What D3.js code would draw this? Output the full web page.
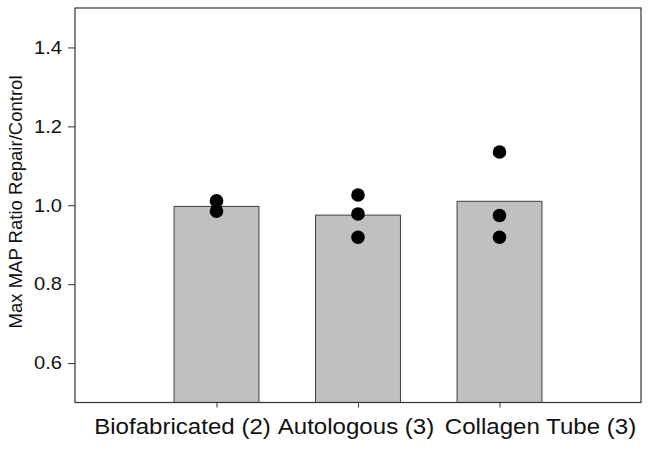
<!DOCTYPE html>
<html>
<head>
<meta charset="utf-8">
<script src="https://cdn.jsdelivr.net/npm/d3@7"></script>
<style>
  html, body { margin: 0; padding: 0; background: #fff; }
  svg { display: block; font-family: Arial, "Liberation Sans", sans-serif; }
</style>
</head>
<body>
<script>
// ---- data ----
const categories = ["Biofabricated (2)", "Autologous (3)", "Collagen Tube (3)"];
const barValues = [0.997, 0.975, 1.010];
const pointValues = [
  [1.011, 0.985],
  [1.026, 0.978, 0.919],
  [1.135, 0.974, 0.919]
];
const yTicks = [0.6, 0.8, 1.0, 1.2, 1.4];
const yTitle = "Max MAP Ratio Repair/Control";

// ---- layout ----
const W = 649, H = 449;
const frame = { left: 75, top: 8, right: 641, bottom: 402.5 };
const labelDx = [-34, -2, 41];

const svg = d3.select("body").append("svg").attr("width", W).attr("height", H);

const x = d3.scaleLinear().domain([0, 4]).range([frame.left, frame.right]);
const y = d3.scaleLinear().domain([0.5, 1.5]).range([frame.bottom, frame.top]);
const barW = x(0.6) - x(0);

// bars
svg.append("g").selectAll("rect").data(barValues).join("rect")
  .attr("x", (d, i) => x(i + 1) - barW / 2)
  .attr("y", d => y(d))
  .attr("width", barW)
  .attr("height", d => y(0.5) - y(d))
  .attr("fill", "#c0c0c0")
  .attr("stroke", "#404040")
  .attr("stroke-width", 1);

// points
pointValues.forEach((vals, i) => {
  svg.append("g").selectAll("circle").data(vals).join("circle")
    .attr("cx", x(i + 1))
    .attr("cy", d => y(d))
    .attr("r", 6.8)
    .attr("fill", "#000");
});

// frame
svg.append("rect")
  .attr("x", frame.left).attr("y", frame.top)
  .attr("width", frame.right - frame.left)
  .attr("height", frame.bottom - frame.top)
  .attr("fill", "none").attr("stroke", "#333").attr("stroke-width", 1.2);

// y axis ticks
const yAxis = svg.append("g")
  .attr("transform", `translate(${frame.left},0)`)
  .call(d3.axisLeft(y).tickValues(yTicks).tickSize(7).tickFormat(""));
yAxis.select(".domain").remove();
yAxis.selectAll("line").attr("stroke", "#333");

// y tick labels (slightly wide glyphs as in reference)
svg.append("g").selectAll("text").data(yTicks).join("text")
  .attr("transform", d => `translate(62,${y(d)}) scale(1.15,1)`)
  .attr("dy", "0.36em")
  .attr("text-anchor", "end")
  .attr("font-size", "17.5px")
  .attr("fill", "#111")
  .text(d => d3.format(".1f")(d));

// x axis ticks
const xAxis = svg.append("g")
  .attr("transform", `translate(0,${frame.bottom})`)
  .call(d3.axisBottom(x).tickValues([1, 2, 3]).tickSize(5).tickFormat(""));
xAxis.select(".domain").remove();
xAxis.selectAll("line").attr("stroke", "#333");

// x labels
svg.append("g").selectAll("text").data(categories).join("text")
  .attr("transform", (d, i) => `translate(${x(i + 1) + labelDx[i]},434.3) scale(1.07,1)`)
  .attr("text-anchor", "middle")
  .attr("font-size", "22.5px")
  .attr("fill", "#111")
  .text(d => d);

// y title
svg.append("text")
  .attr("transform", `translate(22.3,202) rotate(-90) scale(1.06,1)`)
  .attr("text-anchor", "middle")
  .attr("font-size", "17.5px")
  .attr("fill", "#111")
  .text(yTitle);
</script>
</body>
</html>
